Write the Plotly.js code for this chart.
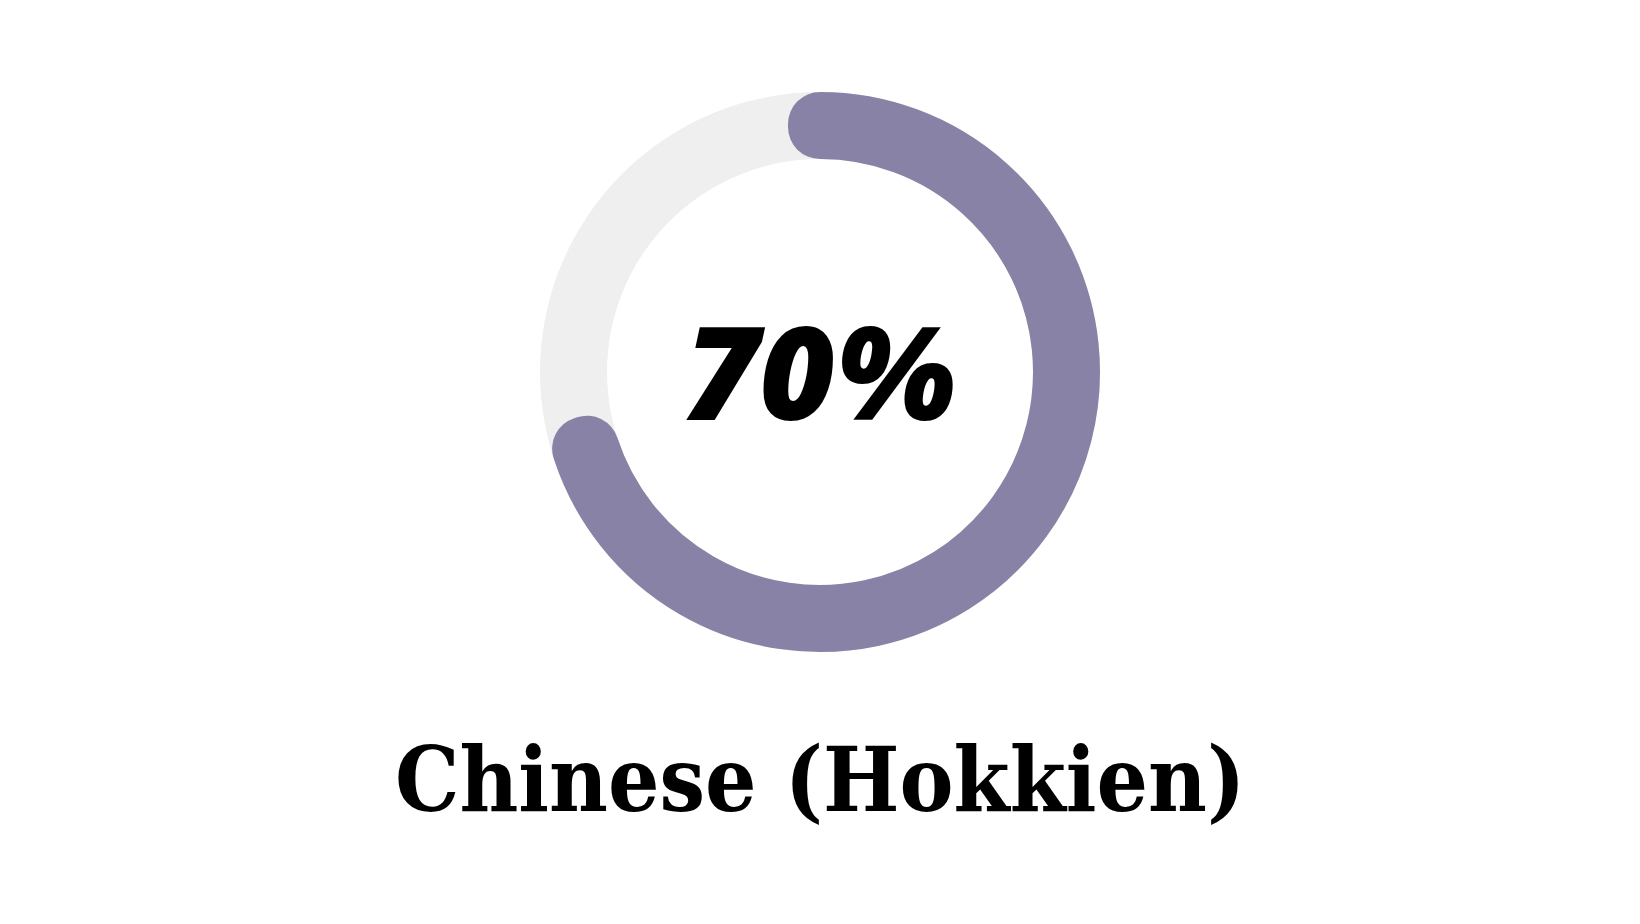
<!DOCTYPE html>
<html>
<head>
<meta charset="utf-8">
<script src="https://cdn.plot.ly/plotly-3.0.1.min.js"></script>
<style>
  html, body { margin: 0; padding: 0; background: #ffffff; }
  #chart { width: 1640px; height: 924px; }
</style>
</head>
<body>
<div id="chart"></div>
<script>
// ---- data ----
const categoryName = 'Chinese (Hokkien)';
const shareLabels = ['Share', 'Rest'];
const shareValues = [70, 30];
const ringLabels = ['Total'];
const ringValues = [100];
const centerLabel = '70%';

// ---- style ----
const purple = 'rgb(137,130,167)';
const grey = '#efefef';
const W = 1640, H = 924;
const cx = 820, cy = 372;          // px, from top-left
const rOuter = 280, rInner = 213;  // ring radii (px)
const capW = 64;                   // stroke width used to round the ends

function domainFor(r) {
  const yb = H - cy;
  return {
    x: [(cx - r) / W, (cx + r) / W],
    y: [(yb - r) / H, (yb + r) / H]
  };
}

const r2 = rOuter - capW / 2;
const r1 = rInner + capW / 2;

const traces = [
  {
    type: 'pie',
    labels: ringLabels,
    values: ringValues,
    hole: rInner / rOuter,
    domain: domainFor(rOuter),
    marker: { colors: [grey], line: { width: 0 } },
    textinfo: 'none',
    hoverinfo: 'skip',
    sort: false,
    showlegend: false
  },
  {
    type: 'pie',
    labels: shareLabels,
    values: shareValues,
    hole: r1 / r2,
    domain: domainFor(r2),
    direction: 'clockwise',
    rotation: 0,
    sort: false,
    marker: {
      colors: [purple, 'rgba(0,0,0,0)'],
      line: { color: [purple, 'rgba(0,0,0,0)'], width: [capW, 0] }
    },
    textinfo: 'none',
    hoverinfo: 'skip',
    showlegend: false
  }
];

const layout = {
  width: W,
  height: H,
  margin: { l: 0, r: 0, t: 0, b: 0 },
  paper_bgcolor: '#ffffff',
  plot_bgcolor: '#ffffff',
  showlegend: false,
  annotations: [
    {
      text: centerLabel,
      x: cx / W, y: (H - 369) / H,
      xref: 'paper', yref: 'paper',
      xanchor: 'center', yanchor: 'middle',
      showarrow: false,
      font: { family: '"Open Sans", sans-serif', size: 130, weight: 800, style: 'italic', color: '#000000' }
    },
    {
      text: '<b>' + categoryName + '</b>',
      x: cx / W, y: (H - 779) / H,
      xref: 'paper', yref: 'paper',
      xanchor: 'center', yanchor: 'middle',
      showarrow: false,
      font: { family: '"DejaVu Serif Condensed", "DejaVu Serif", serif', size: 90, color: '#000000' }
    }
  ]
};

Plotly.newPlot('chart', traces, layout, { staticPlot: true, displayModeBar: false }).then(function () {
  const pieTraces = document.querySelectorAll('.pielayer .trace');
  if (pieTraces.length > 1) {
    const paths = pieTraces[1].querySelectorAll('path.surface');
    paths.forEach(function (p) {
      p.style.strokeLinejoin = 'round';
    });
  }
});
</script>
</body>
</html>
